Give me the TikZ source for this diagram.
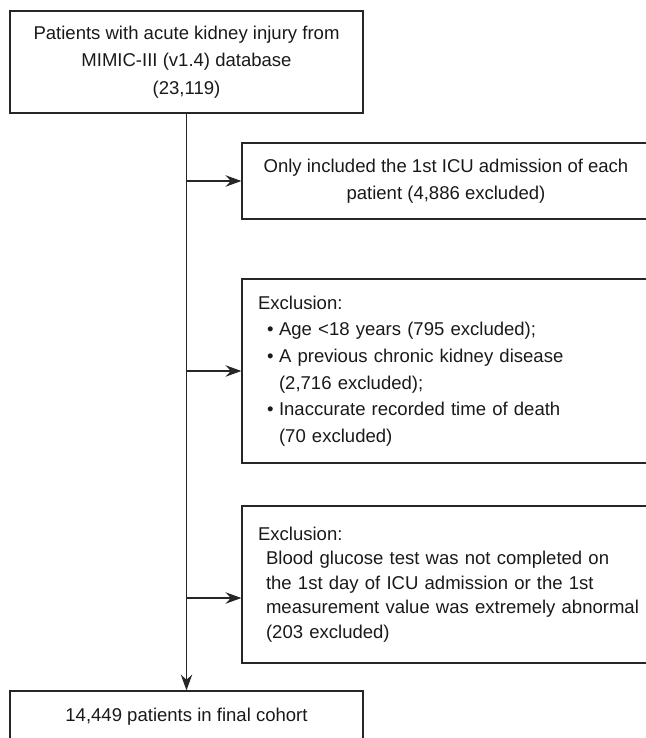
\documentclass[tikz,border=0pt]{standalone}
\usepackage{fontspec}
\setmainfont{Liberation Sans}
\usepackage{tikz}
\usetikzlibrary{
    arrows.meta,
}
\tikzset{
    flowbox/.style={draw=black!85, line width=0.75pt, text=black!90, inner ysep=0pt},
    mainbox/.style={flowbox, align=center, minimum width=7.06cm},
    sidebox/.style={flowbox, align=left, inner xsep=0.32cm, text width=7.8cm},
}

\begin{document}
\begin{tikzpicture}[
    x=0.02cm, y=0.02cm,
    >={Stealth[length=9pt, width=6.5pt, inset=3pt]},
    flow/.style={->, draw=black!85, line width=0.7pt},
    every node/.style={font=\fontsize{10.55}{15.2}\selectfont},
    ]

    \useasboundingbox (0,0) rectangle (646,-738);
    \clip (0,0) rectangle (646,-738);

    \def\xmain{186.5}  % main column
    \def\xside{453}    % exclusion column
    \def\bitem{\hspace*{0.18cm}\makebox[0.24cm][l]{\textbullet}}
    \def\bcont{\hspace*{0.42cm}}

    \node[mainbox, minimum height=2.04cm, font=\fontsize{10.55}{15.6}\selectfont] (source) at (\xmain,-62)
        {Patients with acute kidney injury from\\ MIMIC-III (v1.4) database\\ (23,119)};

    \node[flowbox, align=center, minimum width=8.16cm, minimum height=1.52cm] (firstadm) at (446,-181)
        {Only included the 1st ICU admission of each\\ patient (4,886 excluded)};

    \node[sidebox, minimum height=3.68cm] (agecrit) at (\xside,-371)
        {Exclusion:\\
        \bitem Age <18 years (795 excluded);\\
        \bitem A previous chronic kidney disease\\
        \bcont (2,716 excluded);\\
        \bitem Inaccurate recorded time of death\\
        \bcont (70 excluded)};

    \node[sidebox, minimum height=3.14cm, font=\fontsize{10.55}{14}\selectfont] (glucose) at (\xside,-584.5)
        {Exclusion:\\
        \hspace*{0.16cm}Blood glucose test was not completed on\\
        \hspace*{0.16cm}the 1st day of ICU admission or the 1st\\
        \hspace*{0.16cm}measurement value was extremely abnormal\\
        \hspace*{0.16cm}(203 excluded)};

    \node[mainbox, minimum height=1.04cm] (cohort) at (\xmain,-717)
        {14,449 patients in final cohort};

    \coordinate (glucin) at ([yshift=-0.27cm]glucose.west);

    \draw[flow] (source) -- (cohort);
    \draw[flow] (source.south |- firstadm.west) -- (firstadm.west);
    \draw[flow] (source.south |- agecrit.west) -- (agecrit.west);
    \draw[flow] (source.south |- glucin) -- (glucin);

\end{tikzpicture}
\end{document}
